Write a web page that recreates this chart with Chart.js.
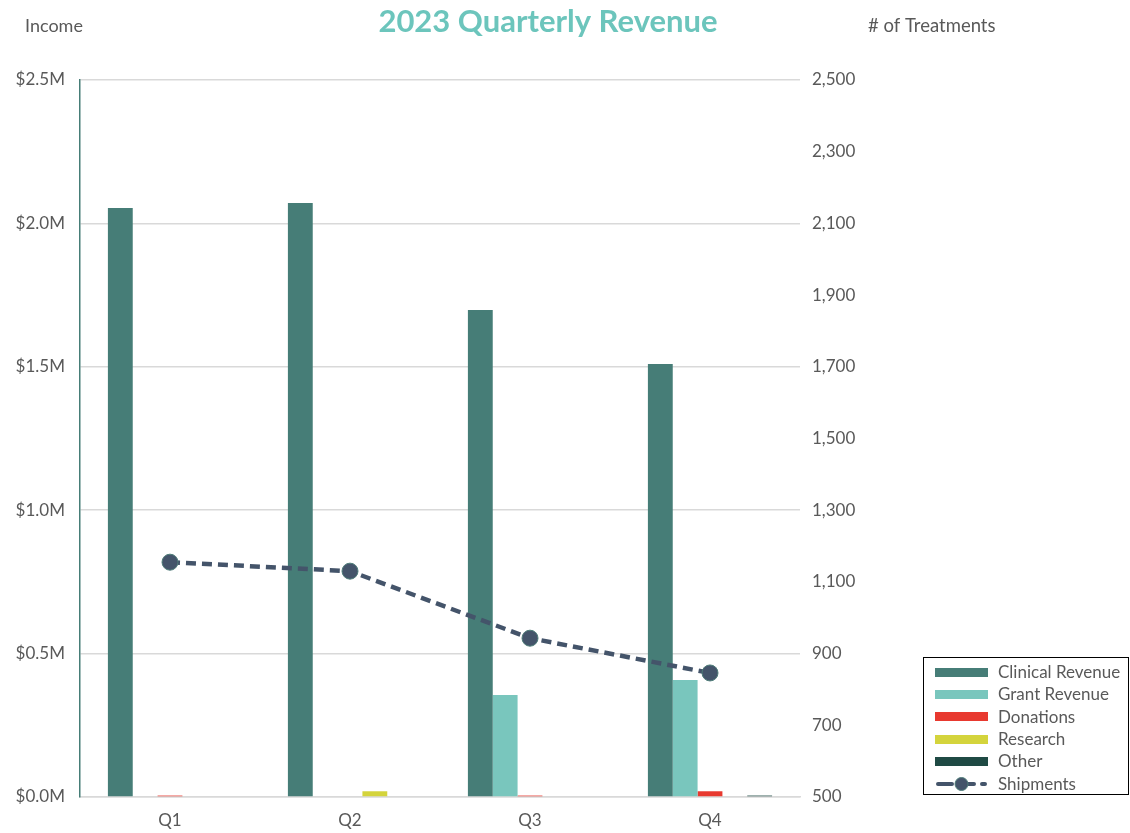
<!DOCTYPE html>
<html><head><meta charset="utf-8">
<script src="https://cdn.jsdelivr.net/npm/chart.js@4.4.0/dist/chart.umd.min.js"></script>
<style>
html,body{margin:0;padding:0;background:#fff;}
#wrap{position:relative;width:1130px;height:833px;}
#legend{position:absolute;left:923px;top:657px;width:206px;height:138px;border:1.5px solid #000;box-sizing:border-box;font-family:Lato,"Open Sans",sans-serif;font-size:17px;color:#595959;padding-top:3px;}
.li{display:flex;align-items:center;height:22.3px;line-height:22px;}
.sw{width:53px;height:9px;margin-left:11px;margin-right:10px;flex:none;}
.sw svg{display:block;}
</style></head><body>
<div id="wrap"><canvas id="c" width="1130" height="833"></canvas><div id="legend"></div></div>
<script>
const categories = ["Q1","Q2","Q3","Q4"];
const clinicalRevenue = [2.054, 2.071, 1.698, 1.51];
const grantRevenue = [0, 0, 0.356, 0.408];
const donations = [0.005, 0, 0.005, 0.02];
const research = [0, 0.02, 0, 0];
const other = [0, 0, 0, 0.005];
const shipments = [1155, 1130, 943, 846];
const leftTicks = [0, 0.5, 1.0, 1.5, 2.0, 2.5];
const rightTicks = [500, 700, 900, 1100, 1300, 1500, 1700, 1900, 2100, 2300, 2500];

const FONT = 'Lato, "Open Sans", sans-serif';
const GREY = '#595959';

const barSets = [
  {label:'Clinical Revenue', data:clinicalRevenue, color:'#467d77'},
  {label:'Grant Revenue', data:grantRevenue, color:'#79c6bd'},
  {label:'Donations', data:donations, color:'#e8392f'},
  {label:'Research', data:research, color:'#d4d43c'},
  {label:'Other', data:other, color:'#1f4a44'}
];
const datasets = barSets.map(s => ({
  type:'bar', label:s.label, data:s.data, backgroundColor:s.color,
  yAxisID:'y', order:1, barPercentage:1.0, categoryPercentage:0.69
}));
datasets.push({
  type:'line', label:'Shipments', data:shipments, yAxisID:'y1', order:0,
  borderColor:'#44546a', borderWidth:4.5, borderDash:[10,6],
  pointRadius:8, pointHoverRadius:8, pointBackgroundColor:'#44546a',
  pointBorderColor:'#4e7c78', pointBorderWidth:1, fill:false, tension:0
});

const headerPlugin = {
  id:'header',
  afterDraw(chart){
    const ctx = chart.ctx;
    ctx.save();
    ctx.textBaseline = 'middle';
    ctx.fillStyle = GREY;
    ctx.font = '18px ' + FONT;
    ctx.textAlign = 'left';
    ctx.fillText('Income', 25, 26);
    ctx.font = '18.5px ' + FONT;
    ctx.fillText('# of Treatments', 868, 26);
    ctx.fillStyle = '#6cc5bc';
    ctx.font = 'bold 31px ' + FONT;
    ctx.textAlign = 'center';
    ctx.fillText('2023 Quarterly Revenue', 548, 22);
    ctx.restore();
  }
};

new Chart(document.getElementById('c'), {
  data:{labels:categories, datasets:datasets},
  options:{
    responsive:false, animation:false,
    layout:{padding:{top:80, right:260, bottom:0, left:0}},
    plugins:{legend:{display:false}, tooltip:{enabled:false}, title:{display:false}},
    scales:{
      x:{
        grid:{display:false, drawTicks:false},
        border:{color:'#d9d9d9', width:1.5},
        ticks:{color:GREY, font:{family:FONT, size:17}, padding:13},
        afterFit(s){ s.height = 36; }
      },
      y:{
        position:'left', min:0, max:2.5,
        afterBuildTicks(s){ s.ticks = leftTicks.map(v => ({value:v})); },
        grid:{color:'#d9d9d9', lineWidth:1.5, drawTicks:false},
        border:{color:'#467d77', width:1.5},
        ticks:{color:GREY, font:{family:FONT, size:17}, padding:15,
          callback:v => '$' + v.toFixed(1) + 'M'},
        afterFit(s){ s.width = 80; }
      },
      y1:{
        position:'right', min:500, max:2500,
        afterBuildTicks(s){ s.ticks = rightTicks.map(v => ({value:v})); },
        grid:{display:false, drawTicks:false},
        border:{display:false},
        ticks:{color:GREY, font:{family:FONT, size:17}, padding:12,
          callback:v => v.toLocaleString('en-US')},
        afterFit(s){ s.width = 70; }
      }
    }
  },
  plugins:[headerPlugin]
});

const lg = document.getElementById('legend');
datasets.forEach(d => {
  const row = document.createElement('div'); row.className='li';
  const sw = document.createElement('div'); sw.className='sw';
  if (d.type === 'bar') { sw.style.background = d.backgroundColor; }
  else {
    sw.style.height='14px';
    sw.innerHTML = '<svg width="53" height="14"><line x1="3" y1="7" x2="50" y2="7" stroke="#44546a" stroke-width="4" stroke-dasharray="14,8" stroke-linecap="round"/><circle cx="26.5" cy="7" r="6.5" fill="#44546a" stroke="#4e7c78"/></svg>';
  }
  const t = document.createElement('span'); t.textContent = d.label;
  row.appendChild(sw); row.appendChild(t); lg.appendChild(row);
});
</script>
</body></html>
